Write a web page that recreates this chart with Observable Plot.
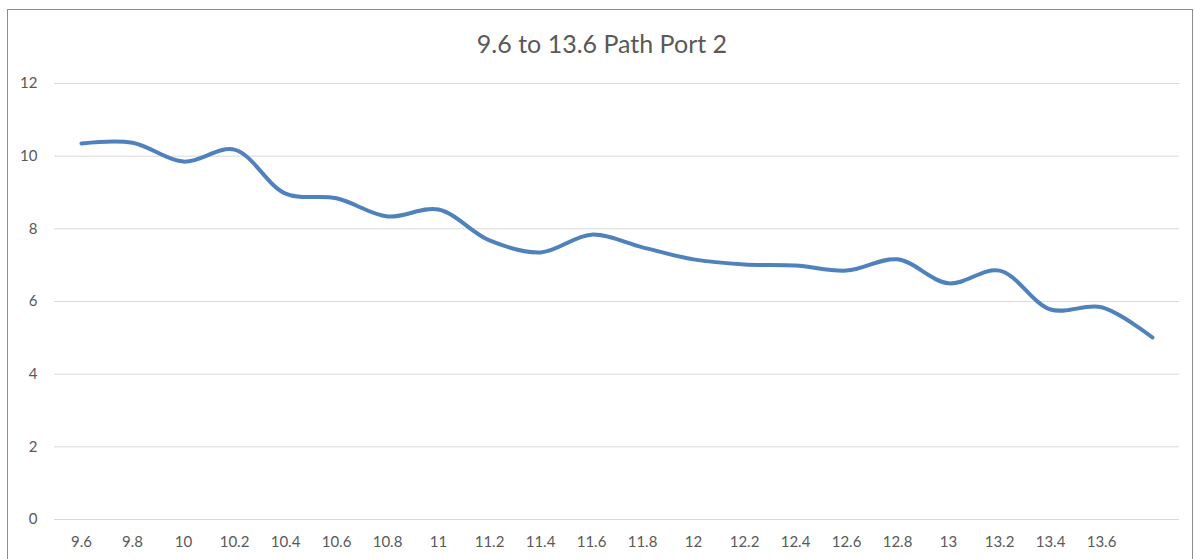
<!DOCTYPE html>
<html>
<head>
<meta charset="utf-8">
<script src="https://cdn.jsdelivr.net/npm/d3@7"></script>
<script src="https://cdn.jsdelivr.net/npm/@observablehq/plot@0.6"></script>
<style>
  html, body { margin: 0; padding: 0; background: #fff; }
  #wrap { position: relative; width: 1195px; height: 559px; overflow: hidden; font-family: Lato, "Open Sans", sans-serif; }
  #frame { position: absolute; left: 7px; top: 9px; width: 1186px; height: 560px; border: 1px solid #8c8c8c; box-sizing: border-box; }
  #title { position: absolute; left: 0; width: 1204px; top: 28px; line-height: 30px; text-align: center; font-size: 25px; color: #595959; }
  #chart { position: absolute; left: 0; top: 0; }
</style>
</head>
<body>
<div id="wrap">
  <div id="frame"></div>
  <div id="chart"></div>
  <div id="title">9.6 to 13.6 Path Port 2</div>
</div>
<script>
const categories = ["9.6","9.8","10","10.2","10.4","10.6","10.8","11","11.2","11.4","11.6","11.8","12","12.2","12.4","12.6","12.8","13","13.2","13.4","13.6",""];
const values = [10.35,10.37,9.85,10.18,8.97,8.84,8.34,8.53,7.68,7.35,7.84,7.49,7.16,7.02,6.99,6.85,7.16,6.50,6.85,5.78,5.84,5.01];
const yTicks = [0,2,4,6,8,10,12];

const data = categories.map((c, i) => ({ cat: c, v: values[i] }));

const chart = Plot.plot({
  width: 1195,
  height: 559,
  marginLeft: 54,
  marginRight: 16,
  marginTop: 83,
  marginBottom: 40,
  style: { fontFamily: "Lato, 'Open Sans', sans-serif", fontSize: "15px", color: "#595959", background: "transparent" },
  x: { type: "point", domain: categories, padding: 0.5, label: null },
  y: { domain: [0, 12], label: null },
  marks: [
    Plot.ruleY(yTicks, { stroke: "#d9d9d9", strokeWidth: 1 }),
    Plot.axisY({ ticks: yTicks, tickSize: 0, tickPadding: 17, label: null, fontSize: 15 }),
    Plot.axisX({ tickSize: 0, tickPadding: 17, label: null, fontSize: 15 }),
    Plot.line(data, { x: "cat", y: "v", stroke: "#4f81bd", strokeWidth: 4, curve: "catmull-rom", strokeLinecap: "round" })
  ]
});
document.getElementById("chart").appendChild(chart);
</script>
</body>
</html>
